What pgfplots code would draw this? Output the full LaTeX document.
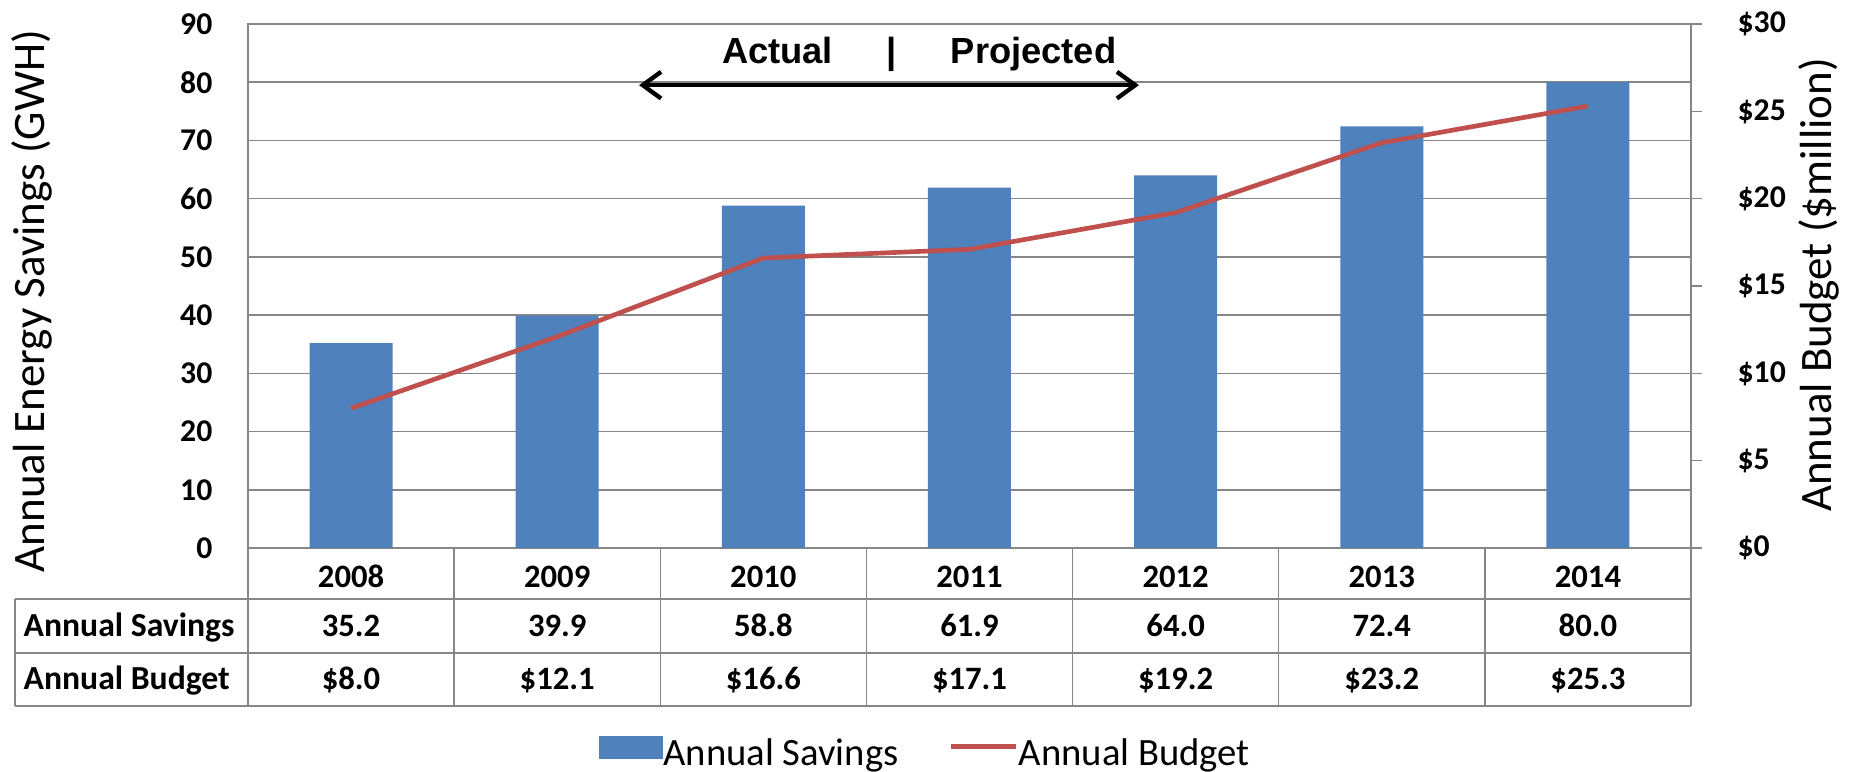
\documentclass[border=0pt]{standalone}
\usepackage{fontspec}
\setmainfont{Carlito}
\newfontfamily\arialfont{Liberation Sans}
\usepackage{pgfplots}
\pgfplotsset{compat=1.18}
\usetikzlibrary{arrows.meta}

\definecolor{barblue}{RGB}{79,129,189}
\definecolor{budgetred}{RGB}{192,80,77}
\definecolor{gridgray}{RGB}{134,134,134}

\newcommand\tickfont{\fontsize{9.5}{11}\selectfont\bfseries}
\newcommand\tablefont{\fontsize{9.8}{11.5}\selectfont\bfseries}
\newcommand\headfont{\fontsize{10.1}{12}\selectfont\bfseries}
\newcommand\titlefont{\fontsize{13.5}{16}\selectfont}
\newcommand\notefont{\fontsize{10.9}{13}\selectfont\arialfont\bfseries}

\begin{document}
\begin{tikzpicture}
\useasboundingbox (0,0) rectangle (554.7pt,231.6pt);

% left axis: savings bars + table below
\begin{axis}[
  at={(74.4pt,67.2pt)}, anchor=south west,
  width=432.9pt, height=157.2pt, scale only axis,
  clip=false,
  xmin=-0.5, xmax=6.5,
  ymin=0, ymax=90,
  ytick={0,10,...,90},
  xtick={0,...,6},
  xticklabels={2008,2009,2010,2011,2012,2013,2014},
  xticklabel style={font=\tablefont, anchor=base, yshift=-7.6pt},
  yticklabel style={font=\tickfont, anchor=east, inner sep=0pt, xshift=-10.5pt},
  /pgf/number format/assume math mode=true,
  tick style={draw=none},
  axis line style={gridgray, line width=0.45pt},
  ymajorgrids,
  major grid style={gridgray, line width=0.45pt},
  ylabel={Annual Energy Savings (GWH)},
  every axis y label/.style={at={(axis description cs:-0.1497,0.471)}, rotate=90, anchor=center, font=\titlefont},
  ybar, bar width=24.9pt,
]
\addplot[fill=barblue, draw=none] coordinates {
  (0,35.2) (1,39.9) (2,58.8) (3,61.9) (4,64.0) (5,72.4) (6,80.0)
};

% data table grid
\draw[gridgray, line width=0.45pt]
  ([shift={(-69.9pt,-15.3pt)}]axis cs:-0.5,0) -- ([yshift=-15.3pt]axis cs:6.5,0)
  ([shift={(-69.9pt,-31.5pt)}]axis cs:-0.5,0) -- ([yshift=-31.5pt]axis cs:6.5,0)
  ([shift={(-69.9pt,-47.4pt)}]axis cs:-0.5,0) -- ([yshift=-47.4pt]axis cs:6.5,0)
  ([shift={(-69.9pt,-15.3pt)}]axis cs:-0.5,0) -- ([shift={(-69.9pt,-47.4pt)}]axis cs:-0.5,0);
\draw[gridgray, line width=0.45pt]
  (axis cs:-0.5,0) -- ([yshift=-47.4pt]axis cs:-0.5,0)
  (axis cs:0.5,0) -- ([yshift=-47.4pt]axis cs:0.5,0)
  (axis cs:1.5,0) -- ([yshift=-47.4pt]axis cs:1.5,0)
  (axis cs:2.5,0) -- ([yshift=-47.4pt]axis cs:2.5,0)
  (axis cs:3.5,0) -- ([yshift=-47.4pt]axis cs:3.5,0)
  (axis cs:4.5,0) -- ([yshift=-47.4pt]axis cs:4.5,0)
  (axis cs:5.5,0) -- ([yshift=-47.4pt]axis cs:5.5,0)
  (axis cs:6.5,0) -- ([yshift=-47.4pt]axis cs:6.5,0);

% table rows
\node[anchor=base west, inner sep=0pt, font=\headfont] at ([shift={(-67.5pt,-26.7pt)}]axis cs:-0.5,0) {Annual Savings};
\node[anchor=base west, inner sep=0pt, font=\headfont] at ([shift={(-67.5pt,-42.6pt)}]axis cs:-0.5,0) {Annual Budget};
\begin{scope}[every node/.style={anchor=base, inner sep=0pt, font=\tablefont}]
\node at ([yshift=-26.7pt]axis cs:0,0) {35.2};
\node at ([yshift=-26.7pt]axis cs:1,0) {39.9};
\node at ([yshift=-26.7pt]axis cs:2,0) {58.8};
\node at ([yshift=-26.7pt]axis cs:3,0) {61.9};
\node at ([yshift=-26.7pt]axis cs:4,0) {64.0};
\node at ([yshift=-26.7pt]axis cs:5,0) {72.4};
\node at ([yshift=-26.7pt]axis cs:6,0) {80.0};
\node at ([yshift=-42.6pt]axis cs:0,0) {\$8.0};
\node at ([yshift=-42.6pt]axis cs:1,0) {\$12.1};
\node at ([yshift=-42.6pt]axis cs:2,0) {\$16.6};
\node at ([yshift=-42.6pt]axis cs:3,0) {\$17.1};
\node at ([yshift=-42.6pt]axis cs:4,0) {\$19.2};
\node at ([yshift=-42.6pt]axis cs:5,0) {\$23.2};
\node at ([yshift=-42.6pt]axis cs:6,0) {\$25.3};
\end{scope}

% actual / projected note
\draw[black, line width=1.3pt, line cap=round,
  {Straight Barb[length=5.5pt,width=8pt]}-{Straight Barb[length=5.5pt,width=8pt]}]
  (axis cs:1.397,79.5) -- (axis cs:3.822,79.5);
\node[anchor=base, inner sep=0pt, font=\notefont] at (axis cs:2.069,83.3) {Actual};
\node[anchor=base, inner sep=0pt, font=\notefont] at (axis cs:2.624,83.3) {|};
\node[anchor=base, inner sep=0pt, font=\notefont] at (axis cs:3.311,83.3) {Projected};
\end{axis}

% right axis: budget line
\begin{axis}[
  at={(74.4pt,67.2pt)}, anchor=south west,
  width=432.9pt, height=157.2pt, scale only axis,
  clip=false,
  xmin=-0.5, xmax=6.5,
  ymin=0, ymax=30,
  axis x line=none,
  axis y line*=right,
  ytick={0,5,...,30},
  yticklabels={\$0,\$5,\$10,\$15,\$20,\$25,\$30},
  yticklabel style={font=\tickfont, anchor=west, inner sep=0pt, xshift=10.5pt},
  tick align=outside,
  major tick length=3.3pt,
  ytick style={gridgray, line width=0.45pt},
  axis line style={gridgray, line width=0.45pt},
  ylabel={Annual Budget (\$million)},
  every axis y label/.style={at={(axis description cs:1.0887,0.502)}, rotate=90, anchor=center, font=\titlefont},
  legend columns=2,
  legend style={draw=none, fill=none, at={(0.4688,-0.391)}, anchor=center,
    font=\fontsize{11.6}{13}\selectfont, inner sep=0pt,
    nodes={inner sep=0pt},
    /tikz/every even column/.append style={column sep=15pt}},
]
\addlegendimage{legend image code/.code={\fill[barblue] (0pt,-1.2pt) rectangle (18.9pt,5.4pt);}}
\addlegendentry{Annual Savings}
\addplot[budgetred, line width=1.4pt, no markers,
  legend image code/.code={\draw[budgetred, line width=1.6pt] (0pt,2.4pt) -- (19.5pt,2.4pt);}]
  coordinates {
  (0,8.0) (1,12.1) (2,16.6) (3,17.1) (4,19.2) (5,23.2) (6,25.3)
};
\addlegendentry{Annual Budget}
\end{axis}
\end{tikzpicture}
\end{document}
